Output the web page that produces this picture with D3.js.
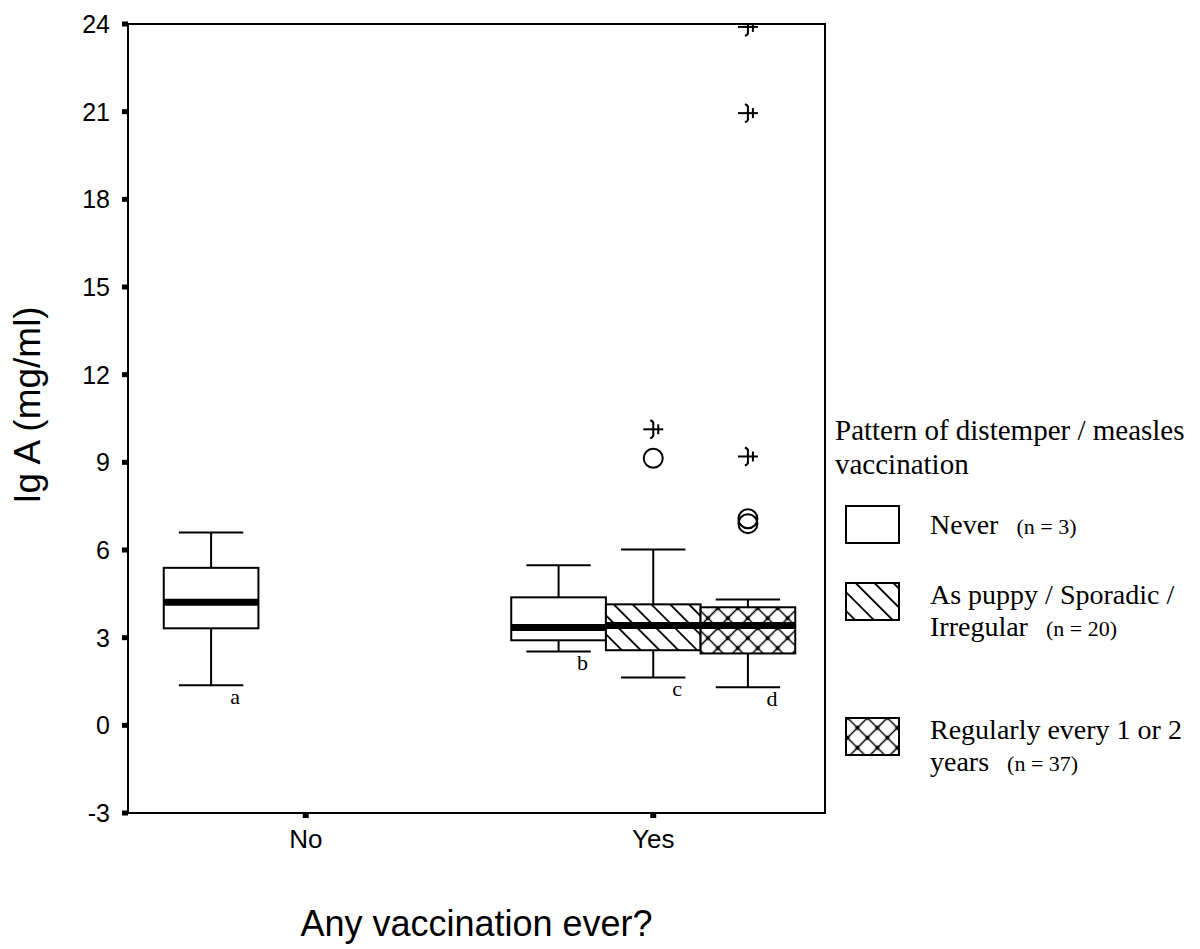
<!DOCTYPE html>
<html>
<head>
<meta charset="utf-8">
<script src="https://cdn.jsdelivr.net/npm/d3@7"></script>
<style>
  body { margin: 0; background: #fff; }
  svg { display: block; }
  .sans { font-family: "Liberation Sans", Arial, sans-serif; }
  .serif { font-family: "Liberation Serif", "Times New Roman", serif; }
</style>
</head>
<body>
<svg id="chart" width="1200" height="949"></svg>
<script>
// categories on the x axis and the three vaccination patterns
var categories = ["No", "Yes"];
var patterns = ["Never", "As puppy / Sporadic / Irregular", "Regularly every 1 or 2 years"];
var patternCounts = [3, 20, 37];

// one entry per drawn box
var boxCategory = ["No", "Yes", "Yes", "Yes"];
var boxPattern = [0, 0, 1, 2];
var boxLetter = ["a", "b", "c", "d"];
var whiskerLow = [1.37, 2.53, 1.64, 1.30];
var quartile1 = [3.32, 2.91, 2.57, 2.46];
var medians = [4.21, 3.35, 3.42, 3.42];
var quartile3 = [5.39, 4.38, 4.14, 4.04];
var whiskerHigh = [6.60, 5.48, 6.02, 4.31];

// outliers (circles) and extremes (asterisks)
var outlierPattern = [1, 2, 2];
var outlierValue = [9.14, 6.90, 7.07];
var extremePattern = [1, 2, 2, 2];
var extremeValue = [10.13, 9.20, 20.95, 23.9];

var yTicks = [-3, 0, 3, 6, 9, 12, 15, 18, 21, 24];

function drawChart() {
  var svg = d3.select("#chart");
  var mLeft = 128, mRight = 825, mTop = 24, mBottom = 813;

  var y = d3.scaleLinear().domain([-3, 24]).range([mBottom, mTop]);
  var x = d3.scaleBand().domain(categories).range([mLeft + 4, mRight + 2]).padding(0);
  var inner = d3.scaleBand().domain([0, 1, 2]).range([-142, 142]);
  var boxW = inner.bandwidth();

  // centre of one box inside its category cluster
  function boxX(cat, p) {
    return x(cat) + x.bandwidth() / 2 + inner(p) + boxW / 2;
  }

  // hatch patterns
  var defs = svg.append("defs");
  var diag = defs.append("pattern")
    .attr("id", "diag")
    .attr("patternUnits", "userSpaceOnUse")
    .attr("width", 13.3).attr("height", 13.3)
    .attr("patternTransform", "rotate(-45)");
  diag.append("rect").attr("width", 13.3).attr("height", 13.3).attr("fill", "#fff");
  diag.append("line").attr("x1", 6.6).attr("x2", 6.6).attr("y1", 0).attr("y2", 13.3)
    .attr("stroke", "#000").attr("stroke-width", 1.8);

  var cross = defs.append("pattern")
    .attr("id", "cross")
    .attr("patternUnits", "userSpaceOnUse")
    .attr("width", 14.1).attr("height", 14.1)
    .attr("patternTransform", "rotate(45)");
  cross.append("rect").attr("width", 14.1).attr("height", 14.1).attr("fill", "#fff");
  cross.append("line").attr("x1", 7.05).attr("x2", 7.05).attr("y1", 0).attr("y2", 14.1)
    .attr("stroke", "#000").attr("stroke-width", 1.5);
  cross.append("line").attr("y1", 7.05).attr("y2", 7.05).attr("x1", 0).attr("x2", 14.1)
    .attr("stroke", "#000").attr("stroke-width", 1.5);
  cross.append("rect").attr("x", 5.3).attr("y", 5.3).attr("width", 3.5).attr("height", 3.5)
    .attr("fill", "#000");

  var fills = ["#fff", "url(#diag)", "url(#cross)"];

  // clip so the top extreme gets cut by the frame
  defs.append("clipPath").attr("id", "plotclip")
    .append("rect").attr("x", mLeft).attr("y", mTop).attr("width", mRight - mLeft).attr("height", mBottom - mTop);

  // frame
  svg.append("rect")
    .attr("x", mLeft).attr("y", mTop)
    .attr("width", mRight - mLeft).attr("height", mBottom - mTop)
    .attr("fill", "none").attr("stroke", "#000").attr("stroke-width", 2);

  // y ticks
  var yt = svg.append("g").attr("class", "sans");
  yTicks.forEach(function(t) {
    yt.append("rect").attr("x", mLeft - 6).attr("y", y(t) - 2.5).attr("width", 6).attr("height", 5).attr("fill", "#000");
    yt.append("text").attr("x", 110).attr("y", y(t)).attr("dy", "0.36em")
      .attr("text-anchor", "end").attr("font-size", 25).text(t);
  });

  // x ticks
  categories.forEach(function(c) {
    var cx = x(c) + x.bandwidth() / 2;
    svg.append("rect").attr("x", cx - 3).attr("y", mBottom).attr("width", 6).attr("height", 5).attr("fill", "#000");
    svg.append("text").attr("class", "sans").attr("x", cx).attr("y", 848)
      .attr("text-anchor", "middle").attr("font-size", 26).text(c);
  });

  // axis titles
  svg.append("text").attr("class", "sans")
    .attr("transform", "translate(40,405) rotate(-90)")
    .attr("text-anchor", "middle").attr("font-size", 37).text("Ig A (mg/ml)");
  svg.append("text").attr("class", "sans")
    .attr("x", (mLeft + mRight) / 2).attr("y", 936)
    .attr("text-anchor", "middle").attr("font-size", 36).text("Any vaccination ever?");

  // boxes
  var g = svg.append("g").attr("clip-path", "url(#plotclip)");
  boxCategory.forEach(function(cat, i) {
    var cx = boxX(cat, boxPattern[i]);
    var capW = boxW * 0.68;
    // whiskers
    g.append("line").attr("x1", cx).attr("x2", cx).attr("y1", y(whiskerHigh[i])).attr("y2", y(quartile3[i]))
      .attr("stroke", "#000").attr("stroke-width", 2);
    g.append("line").attr("x1", cx).attr("x2", cx).attr("y1", y(quartile1[i])).attr("y2", y(whiskerLow[i]))
      .attr("stroke", "#000").attr("stroke-width", 2);
    g.append("line").attr("x1", cx - capW / 2).attr("x2", cx + capW / 2)
      .attr("y1", y(whiskerHigh[i])).attr("y2", y(whiskerHigh[i])).attr("stroke", "#000").attr("stroke-width", 2);
    g.append("line").attr("x1", cx - capW / 2).attr("x2", cx + capW / 2)
      .attr("y1", y(whiskerLow[i])).attr("y2", y(whiskerLow[i])).attr("stroke", "#000").attr("stroke-width", 2);
    // box
    g.append("rect")
      .attr("x", cx - boxW / 2).attr("y", y(quartile3[i]))
      .attr("width", boxW).attr("height", y(quartile1[i]) - y(quartile3[i]))
      .attr("fill", fills[boxPattern[i]]).attr("stroke", "#000").attr("stroke-width", 2);
    // median
    g.append("line").attr("x1", cx - boxW / 2).attr("x2", cx + boxW / 2)
      .attr("y1", y(medians[i])).attr("y2", y(medians[i])).attr("stroke", "#000").attr("stroke-width", 7);
    // letter
    svg.append("text").attr("class", "serif")
      .attr("x", cx + 24).attr("y", y(whiskerLow[i]) + 19)
      .attr("text-anchor", "middle").attr("font-size", 22).text(boxLetter[i]);
  });

  // outliers
  outlierPattern.forEach(function(p, i) {
    g.append("circle").attr("cx", boxX("Yes", p)).attr("cy", y(outlierValue[i])).attr("r", 9.5)
      .attr("fill", "none").attr("stroke", "#000").attr("stroke-width", 2);
  });

  // extremes
  extremePattern.forEach(function(p, i) {
    var cx = boxX("Yes", p), cy = y(extremeValue[i]);
    var s = g.append("g").attr("transform", "translate(" + cx + "," + cy + ")")
      .attr("stroke", "#000").attr("stroke-width", 2).attr("fill", "none");
    s.append("line").attr("x1", -10).attr("x2", 10).attr("y1", 0).attr("y2", 0);
    s.append("line").attr("x1", 0).attr("x2", 0).attr("y1", -7).attr("y2", 7);
    s.append("line").attr("x1", 5).attr("x2", 5).attr("y1", -5).attr("y2", 5);
    s.append("path").attr("d", "M-3,-9 Q0,-8 0,-6 M-3,9 Q0,8 0,6");
  });

  // legend
  var lg = svg.append("g").attr("class", "serif");
  lg.append("text").attr("x", 835).attr("y", 440).attr("font-size", 29).text("Pattern of distemper / measles");
  lg.append("text").attr("x", 835).attr("y", 474).attr("font-size", 29).text("vaccination");

  var legendLines = [
    [["Never", "(n = " + patternCounts[0] + ")"]],
    [["As puppy / Sporadic /", ""], ["Irregular", "(n = " + patternCounts[1] + ")"]],
    [["Regularly every 1 or 2", ""], ["years", "(n = " + patternCounts[2] + ")"]]
  ];
  var legendTop = [506, 583, 718];
  legendLines.forEach(function(lines, i) {
    lg.append("rect").attr("x", 846).attr("y", legendTop[i]).attr("width", 53).attr("height", 37)
      .attr("fill", fills[i]).attr("stroke", "#000").attr("stroke-width", 2);
    var base = i === 0 ? legendTop[i] + 28 : legendTop[i] + 21;
    lines.forEach(function(l, j) {
      var t = lg.append("text").attr("x", 930).attr("y", base + j * 32).attr("font-size", 28);
      t.append("tspan").text(l[0]);
      if (l[1]) t.append("tspan").attr("font-size", 22).attr("dx", 18).text(l[1]);
    });
  });
}

drawChart();
</script>
</body>
</html>
